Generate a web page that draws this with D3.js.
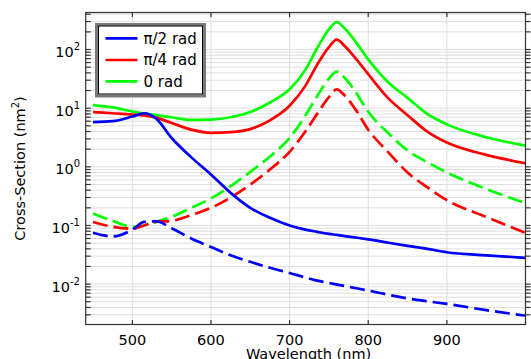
<!DOCTYPE html>
<html>
<head>
<meta charset="utf-8">
<script src="https://cdn.jsdelivr.net/npm/d3@7"></script>
<style>
  body { margin: 0; background: #fff; }
  text { font-family: "DejaVu Sans", sans-serif; fill: #000; }
</style>
</head>
<body>
<div id="chart"></div>
<script>
// values
const wavelength = [450, 475, 500, 515, 530, 550, 575, 600, 625, 650, 675, 700, 720, 735, 750, 760, 770, 785, 800, 825, 850, 875, 900, 950, 1000]

const blueSolid = [5.8, 6.0, 7.2, 8.2, 6.7, 3.1, 1.45, 0.74, 0.36, 0.2, 0.135, 0.10, 0.085, 0.078, 0.072, 0.069, 0.066, 0.062, 0.058, 0.051, 0.045, 0.04, 0.035, 0.031, 0.028]
const redSolid = [8.6, 8.2, 7.8, 7.5, 6.9, 5.6, 4.3, 3.8, 3.9, 4.4, 6.2, 11, 24, 55, 110, 148, 115, 68, 38, 15, 7.6, 4.0, 2.6, 1.6, 1.15]
const greenSolid = [11.3, 10.3, 8.8, 8.1, 7.6, 7.0, 6.3, 6.4, 7.0, 8.6, 12.5, 21, 45, 105, 220, 295, 230, 130, 68, 28, 15, 8, 5.3, 3.2, 2.3]

const blueDashed = [0.075, 0.065, 0.085, 0.115, 0.118, 0.09, 0.06, 0.043, 0.031, 0.024, 0.019, 0.0155, 0.013, 0.0115, 0.0105, 0.0098, 0.0093, 0.0085, 0.0078, 0.0066, 0.0057, 0.0051, 0.0046, 0.0036, 0.0029]
const redDashed = [0.115, 0.095, 0.088, 0.1, 0.115, 0.12, 0.15, 0.2, 0.3, 0.5, 0.9, 1.8, 4.0, 8, 15.5, 21, 16.5, 9, 4.3, 1.8, 0.8, 0.45, 0.27, 0.14, 0.075]
const greenDashed = [0.16, 0.12, 0.095, 0.1, 0.115, 0.14, 0.2, 0.29, 0.47, 0.82, 1.5, 3.1, 7.5, 16, 32, 42, 33, 18, 8.7, 3.8, 1.9, 1.2, 0.8, 0.42, 0.24]

const xTicks = [500, 600, 700, 800, 900, 1000]
const xTickLabels = ['500', '600', '700', '800', '900', '']
const yDecades = [-2, -1, 0, 1, 2]
const legendLabels = ['π/2 rad', 'π/4 rad', '0 rad']
const colors = ['#0000ff', '#ff0000', '#00ff00']

const width = 531
const height = 359
const plot = { left: 85.7, right: 525.5, top: 12.5, bottom: 324.5 }

const xScale = d3.scaleLinear()
  .domain([440.7, 1000])
  .range([plot.left, plot.right])

const yScale = d3.scaleLog()
  .domain([0.00205, 428])
  .range([plot.bottom, plot.top])

const svg = d3.select('#chart')
  .append('svg')
  .attr('width', width)
  .attr('height', height)
  .attr('viewBox', [0, 0, width, height])

svg.append('rect').attr('width', width).attr('height', height).attr('fill', '#fff')

svg.append('clipPath').attr('id', 'clip')
  .append('rect')
  .attr('x', plot.left).attr('y', plot.top)
  .attr('width', plot.right - plot.left).attr('height', plot.bottom - plot.top)

// grid
const yTicks = yScale.ticks()
const grid = svg.append('g').attr('stroke', '#dedede').attr('stroke-width', 1)
grid.selectAll('.hg')
  .data(yTicks)
  .join('line')
  .attr('x1', plot.left).attr('x2', plot.right)
  .attr('y1', d => yScale(d)).attr('y2', d => yScale(d))
grid.selectAll('.vg')
  .data(xTicks.slice(0, -1))
  .join('line')
  .attr('x1', d => xScale(d)).attr('x2', d => xScale(d))
  .attr('y1', plot.top).attr('y2', plot.bottom)

// curves
const line = d3.line()
  .x((d, i) => xScale(wavelength[i]))
  .y(d => yScale(d))
  .curve(d3.curveMonotoneX)

const series = [
  { values: greenDashed, color: colors[2], dash: '15,6' },
  { values: redDashed, color: colors[1], dash: '15,6' },
  { values: blueDashed, color: colors[0], dash: '15,6' },
  { values: greenSolid, color: colors[2], dash: null },
  { values: redSolid, color: colors[1], dash: null },
  { values: blueSolid, color: colors[0], dash: null }
]

svg.append('g')
  .attr('clip-path', 'url(#clip)')
  .selectAll('path')
  .data(series)
  .join('path')
  .attr('fill', 'none')
  .attr('stroke', d => d.color)
  .attr('stroke-width', 2.7)
  .attr('stroke-dasharray', d => d.dash)
  .attr('stroke-linejoin', 'round')
  .attr('d', d => line(d.values))

// frame + ticks
const axisColor = '#333'
svg.append('rect')
  .attr('x', plot.left).attr('y', plot.top)
  .attr('width', plot.right - plot.left).attr('height', plot.bottom - plot.top)
  .attr('fill', 'none').attr('stroke', axisColor).attr('stroke-width', 1.2)

const ticks = svg.append('g').attr('stroke', axisColor).attr('stroke-width', 1.2)
ticks.selectAll('.xb')
  .data(xTicks)
  .join('line')
  .attr('x1', d => xScale(d)).attr('x2', d => xScale(d))
  .attr('y1', plot.bottom).attr('y2', plot.bottom - 4.5)
ticks.selectAll('.xt')
  .data(xTicks)
  .join('line')
  .attr('x1', d => xScale(d)).attr('x2', d => xScale(d))
  .attr('y1', plot.top).attr('y2', plot.top + 4.5)
ticks.selectAll('.yl')
  .data(yTicks)
  .join('line')
  .attr('x1', plot.left).attr('x2', plot.left + 5)
  .attr('y1', d => yScale(d)).attr('y2', d => yScale(d))
ticks.selectAll('.yr')
  .data(yTicks)
  .join('line')
  .attr('x1', plot.right).attr('x2', plot.right + 5)
  .attr('y1', d => yScale(d)).attr('y2', d => yScale(d))

// tick labels
svg.append('g')
  .selectAll('text')
  .data(xTicks)
  .join('text')
  .attr('x', d => xScale(d))
  .attr('y', 345)
  .attr('text-anchor', 'middle')
  .attr('font-size', 14.5)
  .text((d, i) => xTickLabels[i])

const yLab = svg.append('g')
  .selectAll('text')
  .data(yDecades)
  .join('text')
  .attr('x', 80)
  .attr('y', d => yScale(Math.pow(10, d)) + 7.5)
  .attr('text-anchor', 'end')
  .attr('font-size', 14.5)
yLab.append('tspan').text('10')
yLab.append('tspan')
  .attr('dy', -7)
  .attr('font-size', 10)
  .text(d => d)

// axis titles
svg.append('text')
  .attr('x', (plot.left + plot.right) / 2 + 3)
  .attr('y', 358.5)
  .attr('text-anchor', 'middle')
  .attr('font-size', 14.5)
  .text('Wavelength (nm)')

const yTitle = svg.append('text')
  .attr('transform', `translate(24.5,${(plot.top + plot.bottom) / 2}) rotate(-90)`)
  .attr('text-anchor', 'middle')
  .attr('font-size', 14.5)
yTitle.append('tspan').text('Cross-Section (nm')
yTitle.append('tspan').attr('dy', -6).attr('font-size', 10).text('2')
yTitle.append('tspan').attr('dy', 6).text(')')

// legend
const legend = svg.append('g')
legend.append('rect')
  .attr('x', 96.5).attr('y', 24.5).attr('width', 108).attr('height', 71.5)
  .attr('fill', '#fff').attr('stroke', '#7a7a7a').attr('stroke-width', 3)
legend.append('rect')
  .attr('x', 98.5).attr('y', 26).attr('width', 104).attr('height', 68)
  .attr('fill', 'none').attr('stroke', '#000').attr('stroke-width', 1)

const legendY = [38.3, 60, 81.3]
const entry = legend.selectAll('.entry')
  .data(legendLabels)
  .join('g')
  .attr('transform', (d, i) => `translate(0,${legendY[i]})`)
entry.append('line')
  .attr('x1', 105.5).attr('x2', 137.5)
  .attr('stroke', (d, i) => colors[i])
  .attr('stroke-width', 2.7)
entry.append('text')
  .attr('x', 143.5)
  .attr('dy', '0.36em')
  .attr('font-size', 15)
  .text(d => d)
</script>
</body>
</html>
